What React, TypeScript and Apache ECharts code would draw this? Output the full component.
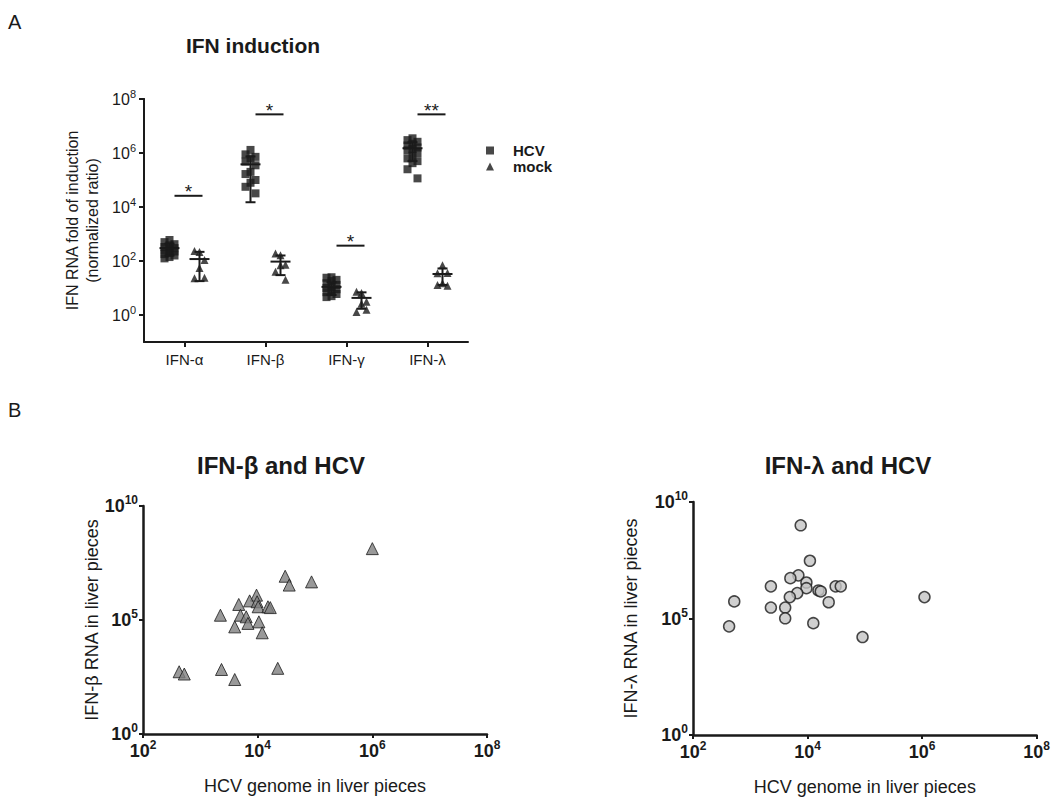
import React, { useEffect, useRef } from 'react';
import * as echarts from 'echarts';

// ---------- Panel A data ----------
const categories = ['IFN-α', 'IFN-β', 'IFN-γ', 'IFN-λ'];
const seriesNames = ['HCV', 'mock'];

const hcvAlpha = [600, 500, 420, 380, 330, 300, 280, 250, 225, 200, 180, 160, 140, 125];
const hcvBeta = [1300000, 890000, 720000, 630000, 480000, 350000, 200000, 166000, 100000, 79000, 56000, 32000];
const hcvGamma = [25, 24, 20, 18, 15, 13, 11, 10, 9, 8, 7, 6, 5, 4.6];
const hcvLambda = [3500000, 3000000, 2600000, 2200000, 1900000, 1600000, 1400000, 1250000, 1000000, 800000, 630000, 500000, 420000, 250000, 115000];

const mockAlpha = [215, 235, 110, 55, 23, 24];
const mockBeta = [165, 190, 72, 70, 40, 20];
const mockGamma = [6.5, 7.2, 3.1, 2.6, 1.3, 1.55];
const mockLambda = [70, 35, 36, 15, 13, 12];

const hcvMean = [300, 380000, 11, 1500000];
const hcvSd = [140, 365000, 5.5, 1000000];
const mockMean = [118, 95, 4.3, 33];
const mockSd = [100, 65, 2.6, 20];

const sigLevel = [26000, 27000000, 370, 27000000];
const sigStars = ['*', '*', '*', '**'];

// ---------- Panel B data ----------
const betaHcvGenome = [1000000, 30200, 35500, 87000, 9550, 7240, 9770, 4680, 10200, 15100, 16600, 2240, 5010, 6310, 3980, 6760, 10500, 12000, 427, 525, 2340, 3980, 22400];
const betaRna = [135000000, 8300000, 3400000, 4700000, 1230000, 690000, 630000, 480000, 380000, 380000, 350000, 162000, 162000, 138000, 50000, 71000, 83000, 27500, 537, 427, 676, 245, 759];

const lambdaHcvGenome = [7590, 11000, 6920, 5010, 9550, 9550, 2290, 15500, 17000, 30900, 38000, 6610, 4900, 23400, 525, 2290, 4070, 4070, 12600, 427, 91200, 1100000];
const lambdaRna = [1000000000, 30000000, 7100000, 5400000, 3500000, 2000000, 2400000, 1600000, 1450000, 2400000, 2400000, 1230000, 830000, 500000, 540000, 295000, 295000, 102000, 63000, 46000, 16000, 830000];

// ---------- styling ----------
const FONT = '"Liberation Sans", Arial, Helvetica, sans-serif';
const ink = '#1a1a1a';
const jitter = [0, -5, 5];

const supFmt = (v: number) => `{base|10}{sup|${Math.round(Math.log10(v))}}`;
const richA = {
  base: { fontSize: 16, color: ink, lineHeight: 22, fontFamily: FONT, fontWeight: 'normal' },
  sup: { fontSize: 11, color: ink, verticalAlign: 'top', fontFamily: FONT, fontWeight: 'normal' },
};
const richB = {
  base: { fontSize: 18, color: ink, fontWeight: 'bold', lineHeight: 24, fontFamily: FONT },
  sup: { fontSize: 12, color: ink, fontWeight: 'bold', verticalAlign: 'top', fontFamily: FONT },
};

const hcvGroups = [hcvAlpha, hcvBeta, hcvGamma, hcvLambda];
const mockGroups = [mockAlpha, mockBeta, mockGamma, mockLambda];

const groupData = (groups: number[][], side: number) =>
  groups.flatMap((arr, ci) =>
    arr.map((v, i) => ({ value: [ci, v], symbolOffset: [side + jitter[i % 3], 0] }))
  );

const errorBarRender = (offset: number) => (params: any, api: any) => {
  const c = api.coord([api.value(0), api.value(1)]);
  const lo = api.coord([api.value(0), api.value(2)]);
  const hi = api.coord([api.value(0), api.value(3)]);
  const x = c[0] + offset;
  const st = { stroke: ink, lineWidth: 2 };
  return {
    type: 'group',
    children: [
      { type: 'line', shape: { x1: x, y1: hi[1], x2: x, y2: lo[1] }, style: st },
      { type: 'line', shape: { x1: x - 10, y1: c[1], x2: x + 10, y2: c[1] }, style: st },
      { type: 'line', shape: { x1: x - 5, y1: hi[1], x2: x + 5, y2: hi[1] }, style: st },
      { type: 'line', shape: { x1: x - 5, y1: lo[1], x2: x + 5, y2: lo[1] }, style: st },
    ],
  };
};

const sigRender = (params: any, api: any) => {
  const c = api.coord([api.value(0), api.value(1)]);
  const x = c[0] + 4;
  return {
    type: 'group',
    children: [
      { type: 'line', shape: { x1: x - 14, y1: c[1], x2: x + 14, y2: c[1] }, style: { stroke: ink, lineWidth: 2 } },
      {
        type: 'text',
        x,
        y: c[1] - 4,
        style: { text: sigStars[params.dataIndex], fontSize: 19, fontFamily: FONT, fill: ink, align: 'center', verticalAlign: 'middle' },
      },
    ],
  };
};

const axisLineStyle = (w: number) => ({ show: true, onZero: false, lineStyle: { color: ink, width: w } });

const logAxisB = (gridIndex: number, min: number, max: number, interval: number, name: string, nameGap: number, isY: boolean) => ({
  gridIndex,
  type: 'log',
  logBase: 10,
  min,
  max,
  interval,
  name,
  nameLocation: 'middle',
  nameGap,
  nameRotate: isY ? 90 : 0,
  nameTextStyle: { fontSize: 18, color: ink, fontFamily: FONT },
  axisLine: axisLineStyle(2.5),
  axisTick: { show: true, length: 4, lineStyle: { color: ink, width: 2 } },
  axisLabel: { formatter: supFmt, rich: richB, margin: 5, fontSize: 18, fontWeight: 'bold', color: ink, fontFamily: FONT },
  splitLine: { show: false },
  minorTick: { show: false },
});

const option: any = {
  animation: false,
  backgroundColor: '#ffffff',
  textStyle: { fontFamily: FONT, color: ink },
  title: [
    { text: 'A', left: 8, top: 12, padding: 0, textStyle: { fontSize: 20, fontWeight: 'normal', color: ink, fontFamily: FONT } },
    { text: 'IFN induction', left: 253, textAlign: 'center', top: 35, padding: 0, textStyle: { fontSize: 21, fontWeight: 'bold', color: ink, fontFamily: FONT } },
    { text: 'B', left: 8, top: 400, padding: 0, textStyle: { fontSize: 20, fontWeight: 'normal', color: ink, fontFamily: FONT } },
    { text: 'IFN-β and HCV', left: 281, textAlign: 'center', top: 453, padding: 0, textStyle: { fontSize: 24, fontWeight: 'bold', color: ink, fontFamily: FONT } },
    { text: 'IFN-λ and HCV', left: 848, textAlign: 'center', top: 453, padding: 0, textStyle: { fontSize: 24, fontWeight: 'bold', color: ink, fontFamily: FONT } },
  ],
  legend: {
    data: seriesNames,
    left: 486,
    top: 143,
    orient: 'vertical',
    itemWidth: 8,
    itemHeight: 8,
    itemGap: 1,
    padding: 0,
    textStyle: { fontSize: 15, fontWeight: 'bold', color: ink, fontFamily: FONT, padding: [0, 0, 0, 14] },
  },
  grid: [
    { left: 144, top: 99, width: 324, height: 243 },
    { left: 144, top: 99, width: 324, height: 216 },
    { left: 143, top: 506, width: 344, height: 228 },
    { left: 693, top: 502, width: 345, height: 233 },
  ],
  xAxis: [
    {
      gridIndex: 0,
      type: 'category',
      data: categories,
      axisLine: axisLineStyle(2),
      axisTick: { show: true, alignWithLabel: true, length: 5, lineStyle: { color: ink, width: 2 } },
      axisLabel: { fontSize: 15, color: ink, margin: 10, fontFamily: FONT },
    },
    { gridIndex: 1, type: 'value', show: false },
    logAxisB(2, 100, 100000000, 2, 'HCV genome in liver pieces', 43, false),
    logAxisB(3, 100, 100000000, 2, 'HCV genome in liver pieces', 43, false),
  ],
  yAxis: [
    {
      gridIndex: 0,
      type: 'log',
      logBase: 10,
      min: 0.1,
      max: 100000000,
      axisLine: axisLineStyle(2),
      axisTick: { show: false },
      axisLabel: { show: false },
      splitLine: { show: false },
      name: 'IFN RNA fold of induction\n(normalized ratio)',
      nameLocation: 'middle',
      nameRotate: 90,
      nameGap: 42,
      nameTextStyle: { fontSize: 16, lineHeight: 20, color: ink, fontFamily: FONT },
    },
    {
      gridIndex: 1,
      type: 'log',
      logBase: 10,
      min: 1,
      max: 100000000,
      interval: 2,
      axisLine: axisLineStyle(2),
      axisTick: { show: true, length: 5, lineStyle: { color: ink, width: 2 } },
      axisLabel: { formatter: supFmt, rich: richA, margin: 8, fontSize: 16, color: ink, fontFamily: FONT },
      splitLine: { show: false },
    },
    logAxisB(2, 1, 10000000000, 5, 'IFN-β RNA in liver pieces', 42, true),
    logAxisB(3, 1, 10000000000, 5, 'IFN-λ RNA in liver pieces', 53, true),
  ],
  series: [
    {
      name: 'HCV',
      type: 'scatter',
      xAxisIndex: 0,
      yAxisIndex: 0,
      symbol: 'rect',
      symbolSize: 8,
      itemStyle: { color: ink },
      data: groupData(hcvGroups, -15),
      z: 2,
    },
    {
      name: 'mock',
      type: 'scatter',
      xAxisIndex: 0,
      yAxisIndex: 0,
      symbol: 'triangle',
      symbolSize: 8,
      itemStyle: { color: ink },
      data: groupData(mockGroups, 15),
      z: 2,
    },
    {
      name: 'HCV mean ± SD',
      type: 'custom',
      xAxisIndex: 0,
      yAxisIndex: 0,
      renderItem: errorBarRender(-15),
      encode: { x: 0, y: [1, 2, 3] },
      data: hcvMean.map((m, i) => [i, m, m - hcvSd[i], m + hcvSd[i]]),
      z: 5,
    },
    {
      name: 'mock mean ± SD',
      type: 'custom',
      xAxisIndex: 0,
      yAxisIndex: 0,
      renderItem: errorBarRender(15),
      encode: { x: 0, y: [1, 2, 3] },
      data: mockMean.map((m, i) => [i, m, m - mockSd[i], m + mockSd[i]]),
      z: 5,
    },
    {
      name: 'significance',
      type: 'custom',
      xAxisIndex: 0,
      yAxisIndex: 0,
      renderItem: sigRender,
      encode: { x: 0, y: 1 },
      data: sigLevel.map((v, i) => [i, v]),
      z: 5,
    },
    {
      name: 'IFN-β vs HCV',
      type: 'scatter',
      xAxisIndex: 2,
      yAxisIndex: 2,
      symbol: 'triangle',
      symbolSize: 12,
      itemStyle: { color: '#808080', borderColor: ink, borderWidth: 1 },
      data: betaHcvGenome.map((x, i) => [x, betaRna[i]]),
    },
    {
      name: 'IFN-λ vs HCV',
      type: 'scatter',
      xAxisIndex: 3,
      yAxisIndex: 3,
      symbol: 'circle',
      symbolSize: 11,
      itemStyle: { color: '#c4c4c4', borderColor: ink, borderWidth: 1.5 },
      data: lambdaHcvGenome.map((x, i) => [x, lambdaRna[i]]),
    },
  ],
};

export default function App() {
  const ref = useRef<HTMLDivElement>(null);
  useEffect(() => {
    const chart = echarts.init(ref.current!, undefined, { renderer: 'svg' });
    chart.setOption(option);
    return () => chart.dispose();
  }, []);
  return <div ref={ref} style={{ position: 'absolute', left: 0, top: 0, width: 1053, height: 798 }} />;
}
